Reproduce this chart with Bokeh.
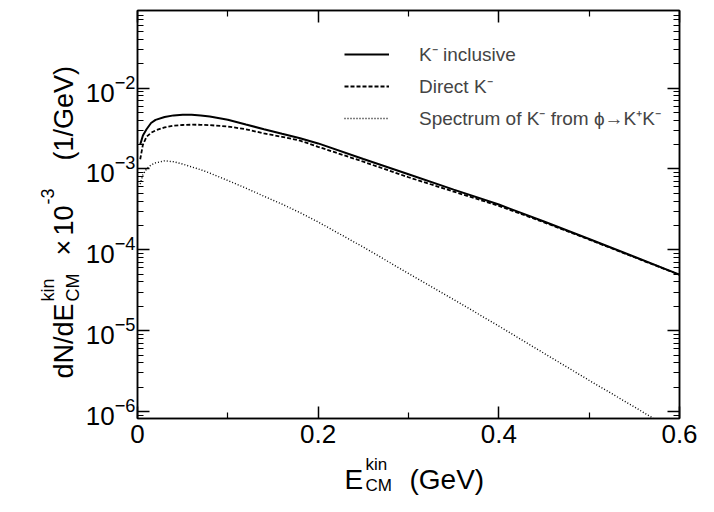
import math
from bokeh.plotting import figure
from bokeh.models import (LogAxis, LinearAxis, LogTicker, FixedTicker,
                          Label, Legend, LegendItem, Range1d)
from bokeh.layouts import column, row
from bokeh.embed import file_html
from bokeh.resources import INLINE

# ---- data ----
energy = [0.003, 0.006, 0.01, 0.015, 0.02, 0.03, 0.04, 0.05, 0.06, 0.07, 0.08,
          0.10, 0.12, 0.14, 0.16, 0.18, 0.20, 0.25, 0.30, 0.35, 0.40, 0.45,
          0.50, 0.55, 0.60]
k_inclusive = [2.0e-3, 2.6e-3, 3.1e-3, 3.7e-3, 4.05e-3, 4.4e-3, 4.6e-3, 4.68e-3,
               4.68e-3, 4.57e-3, 4.45e-3, 4.07e-3, 3.55e-3, 3.1e-3, 2.72e-3,
               2.4e-3, 2.07e-3, 1.33e-3, 8.6e-4, 5.56e-4, 3.63e-4, 2.24e-4,
               1.36e-4, 8.2e-5, 4.93e-5]
k_direct = [1.32e-3, 2.0e-3, 2.5e-3, 2.8e-3, 3.0e-3, 3.27e-3, 3.43e-3, 3.5e-3,
            3.53e-3, 3.52e-3, 3.48e-3, 3.35e-3, 3.1e-3, 2.75e-3, 2.5e-3,
            2.24e-3, 1.88e-3, 1.23e-3, 7.9e-4, 5.25e-4, 3.5e-4, 2.19e-4,
            1.34e-4, 8.1e-5, 4.9e-5]
k_from_phi = [6.5e-4, 8.5e-4, 1.0e-3, 1.12e-3, 1.19e-3, 1.26e-3, 1.23e-3, 1.15e-3,
              1.06e-3, 9.8e-4, 8.9e-4, 7.2e-4, 5.8e-4, 4.6e-4, 3.67e-4,
              2.88e-4, 2.21e-4, 1.08e-4, 5.1e-5, 2.43e-5, 1.14e-5, 5.25e-6,
              2.43e-6, 1.14e-6, 5.25e-7]

legend_labels = ["K\u207b inclusive", "Direct K\u207b",
                 "Spectrum of K\u207b from \u03d5\u2192K\u207aK\u207b"]
x_major_ticks = [0, 0.2, 0.4, 0.6]
x_minor_ticks = [0.1, 0.3, 0.5]
x_tick_overrides = {0: "0"}

FONT = "Liberation Sans"

W_TOTAL, H_TOTAL = 698, 496
W_LEFT = 82                 # strip holding the y-axis title
H_MAIN = 454                # main plot height; x-title strip below it
H_BOTTOM = H_TOTAL - H_MAIN
B_TOP, B_BOTTOM = 10, 36    # main plot borders (frame 10..418)
B_LEFT, B_RIGHT = 51, 19    # frame 133..679

p = figure(width=W_TOTAL - W_LEFT, height=H_MAIN, title=None,
           output_backend="svg", toolbar_location=None,
           y_axis_type="log", x_range=Range1d(0, 0.6), y_range=Range1d(8.2e-7, 0.0912),
           min_border_left=B_LEFT, min_border_right=B_RIGHT, min_border_top=B_TOP,
           min_border_bottom=B_BOTTOM)
p.grid.visible = False
p.background_fill_color = "white"
p.border_fill_color = "white"
p.outline_line_color = "black"
p.outline_line_width = 1.5


def style_axis(ax, labels=True):
    ax.axis_line_color = "black"
    ax.axis_line_width = 1.5
    ax.major_tick_in = 12
    ax.major_tick_out = 0
    ax.minor_tick_in = 6
    ax.minor_tick_out = 0
    ax.major_tick_line_width = 1.5
    ax.minor_tick_line_width = 1.2
    ax.major_tick_line_color = "black"
    ax.minor_tick_line_color = "black"
    if labels:
        ax.major_label_text_font = FONT
        ax.major_label_text_font_size = "26px"
        ax.major_label_text_color = "black"
    else:
        ax.major_label_text_font_size = "0px"
        ax.major_label_text_alpha = 0
        ax.major_label_standoff = 0


xa = p.xaxis[0]
xa.ticker = FixedTicker(ticks=x_major_ticks, minor_ticks=x_minor_ticks)
xa.major_label_overrides = x_tick_overrides
style_axis(xa)
xa.major_label_standoff = 6

ya = p.yaxis[0]
ya.ticker = LogTicker(num_minor_ticks=10)
style_axis(ya)
ya.major_label_standoff = 2

top = LinearAxis(ticker=FixedTicker(ticks=x_major_ticks, minor_ticks=x_minor_ticks))
style_axis(top, labels=False)
p.add_layout(top, "above")
right = LogAxis(ticker=LogTicker(num_minor_ticks=10))
style_axis(right, labels=False)
p.add_layout(right, "right")

r1 = p.line(energy, k_inclusive, line_color="black", line_width=2)
r2 = p.line(energy, k_direct, line_color="black", line_width=1.8, line_dash="4 2")
r3 = p.line(energy, k_from_phi, line_color="black", line_width=1.4, line_dash="1 2")

legend = Legend(items=[LegendItem(label=legend_labels[0], renderers=[r1]),
                       LegendItem(label=legend_labels[1], renderers=[r2]),
                       LegendItem(label=legend_labels[2], renderers=[r3])],
                location=(207, 287), glyph_width=45, glyph_height=26, label_height=26,
                label_standoff=30, spacing=6, padding=0, margin=0,
                border_line_color=None, background_fill_alpha=0,
                label_text_font=FONT, label_text_font_size="19px")
p.add_layout(legend)


def strip(w, h, top=0, bottom=0):
    s = figure(width=w, height=h, title=None, output_backend="svg",
               toolbar_location=None, x_range=Range1d(0, 1), y_range=Range1d(0, 1),
               x_axis_location=None, y_axis_location=None,
               min_border_left=0, min_border_right=0,
               min_border_top=top, min_border_bottom=bottom)
    s.grid.visible = False
    s.outline_line_color = None
    s.background_fill_color = "white"
    s.border_fill_color = "white"
    return s


# left strip shares the main plot's vertical borders, so its frame is 10..418
ys = strip(W_LEFT, H_MAIN, top=B_TOP, bottom=B_BOTTOM)
xs = strip(W_TOTAL, H_BOTTOM)


def add_text(fig, txt, sx, sy, size, frame_bottom, frame_left=0, angle=0.0):
    # sx, sy: picture pixels (from top-left) of the text's start / vertical middle
    fig.add_layout(Label(x=sx - frame_left, y=frame_bottom - sy,
                         x_units="screen", y_units="screen",
                         text=txt, text_font=FONT, text_font_size=f"{size}px",
                         angle=angle, text_align="left", text_baseline="middle",
                         text_color="black"))


# y axis title (rotated): dN/dE^{kin}_{CM} x 10^{-3}  (1/GeV)
A = math.pi / 2
FB = H_MAIN - B_BOTTOM   # frame bottom of the left strip, in picture pixels
add_text(ys, "dN/dE", 63, 378, 27, FB, angle=A)
add_text(ys, "kin", 47, 301, 18, FB, angle=A)
add_text(ys, "CM", 72, 301, 18, FB, angle=A)
add_text(ys, "\u00d7", 63, 255, 27, FB, angle=A)
add_text(ys, "10", 63, 235, 27, FB, angle=A)
add_text(ys, "-3", 47, 204, 18, FB, angle=A)
add_text(ys, "(1/GeV)", 63, 160, 27, FB, angle=A)

# x axis title: E^{kin}_{CM}  (GeV)   (strip covers picture rows 454..496)
add_text(xs, "E", 344, 479 - H_MAIN, 28, H_BOTTOM)
add_text(xs, "kin", 365, 464 - H_MAIN, 17, H_BOTTOM)
add_text(xs, "CM", 365, 485 - H_MAIN, 17, H_BOTTOM)
add_text(xs, "(GeV)", 409, 479 - H_MAIN, 28, H_BOTTOM)

layout = column(row(ys, p, spacing=0), xs, spacing=0)
open("out.html", "w").write(file_html(layout, INLINE))
